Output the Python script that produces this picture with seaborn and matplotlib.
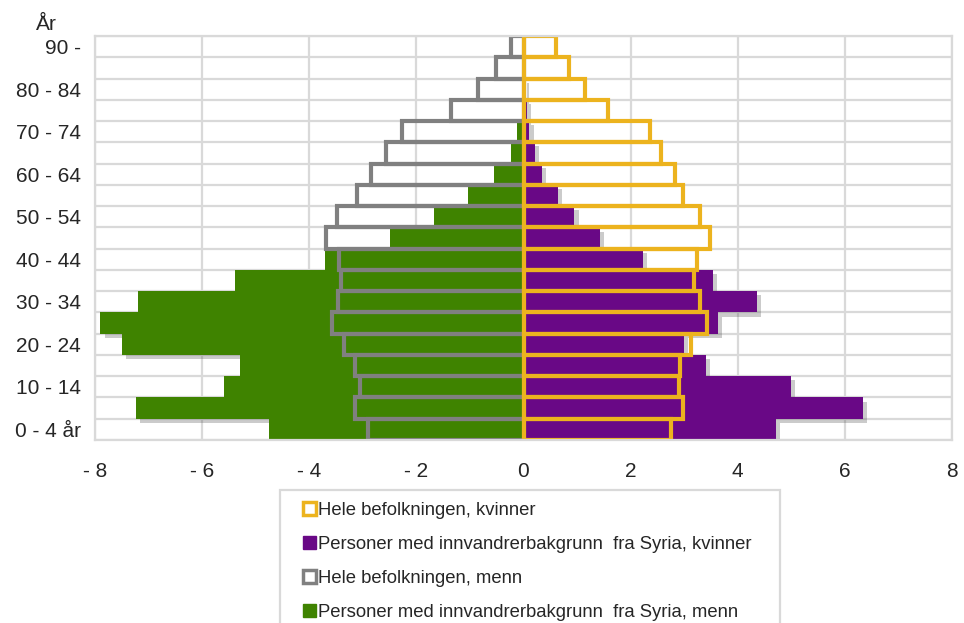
import matplotlib.pyplot as plt
import matplotlib.patheffects as pe
from matplotlib.patches import Patch, Rectangle
import seaborn as sns

# age groups, youngest first
ages = ["0 - 4 år", "5 - 9", "10 - 14", "15 - 19", "20 - 24", "25 - 29", "30 - 34",
        "35 - 39", "40 - 44", "45 - 49", "50 - 54", "55 - 59", "60 - 64", "65 - 69",
        "70 - 74", "75 - 79", "80 - 84", "85 - 89", "90 -"]

# percent of each population (men shown as negative)
women_all = [2.76, 2.97, 2.90, 2.93, 3.12, 3.43, 3.29, 3.18, 3.23, 3.49,
             3.29, 2.97, 2.82, 2.57, 2.37, 1.57, 1.14, 0.85, 0.60]
women_syria = [4.71, 6.33, 4.99, 3.40, 3.00, 3.63, 4.36, 3.54, 2.23, 1.43,
               0.95, 0.65, 0.34, 0.21, 0.11, 0.06, 0.02, 0.0, 0.0]
men_all = [-2.91, -3.14, -3.06, -3.14, -3.35, -3.58, -3.47, -3.41, -3.44, -3.69,
           -3.48, -3.10, -2.84, -2.57, -2.27, -1.35, -0.85, -0.51, -0.24]
men_syria = [-4.76, -7.24, -5.59, -5.29, -7.49, -7.90, -7.19, -5.39, -3.70, -2.50,
             -1.68, -1.03, -0.55, -0.24, -0.13, -0.02, -0.02, 0.0, 0.0]

labels = ["Hele befolkningen, kvinner",
          "Personer med innvandrerbakgrunn  fra Syria, kvinner",
          "Hele befolkningen, menn",
          "Personer med innvandrerbakgrunn  fra Syria, menn"]

GOLD = "#ECB31E"
PURPLE = "#690886"
GREY = "#808080"
GREEN = "#3F8300"
GRID = "#D9D9D9"

sns.set_style("white")
plt.rcParams["font.family"] = ["Liberation Sans", "DejaVu Sans"]
plt.rcParams["font.size"] = 15

fig = plt.figure(figsize=(9.64, 6.23), dpi=100)
ax = fig.add_axes([95 / 964, 1 - 440 / 623, (952 - 95) / 964, (440 - 36) / 623])

order = ages[::-1]
shadow = [pe.SimplePatchShadow(offset=(3, -3), shadow_rgbFace="#555555", alpha=0.3), pe.Normal()]

sns.barplot(x=men_syria, y=ages, order=order, orient="h", color=GREEN,
            width=1.0, saturation=1, linewidth=0, ax=ax)
sns.barplot(x=women_syria, y=ages, order=order, orient="h", color=PURPLE,
            width=1.0, saturation=1, linewidth=0, ax=ax)
for p in ax.patches:
    p.set_path_effects(shadow)

sns.barplot(x=men_all, y=ages, order=order, orient="h", color=GREY, fill=False,
            width=1.0, saturation=1, linewidth=3, ax=ax)
sns.barplot(x=women_all, y=ages, order=order, orient="h", color=GOLD, fill=False,
            width=1.0, saturation=1, linewidth=3, ax=ax)

ax.set_xlim(-8, 8)
ax.set_ylim(18.5, -0.5)
xt = list(range(-8, 9, 2))
ax.set_xticks(xt)
ax.set_xticklabels([f"- {abs(v)}" if v < 0 else str(v) for v in xt])
ax.set_yticks(range(len(order)))
ax.set_yticklabels([a if (len(order) - 1 - i) % 2 == 0 else "" for i, a in enumerate(order)])
ax.set_xlabel("")
ax.set_ylabel("")
ax.tick_params(axis="x", length=0, pad=16)
ax.tick_params(axis="y", length=0, pad=10)

ax.set_axisbelow(True)
for v in xt:
    ax.axvline(v, color=GRID, lw=1.6, zorder=0)
for k in range(len(order) + 1):
    ax.axhline(k - 0.5, color=GRID, lw=1.6, zorder=0)
for s in ax.spines.values():
    s.set_color(GRID)
    s.set_linewidth(1.6)

fig.text(46 / 964, 1 - 25 / 623, "År", ha="center", va="center", fontsize=15)

# legend box runs past the bottom edge of the figure, as in the original
fig.patches.append(Rectangle((280 / 964, -0.1), 500 / 964, 0.1 + (623 - 490) / 623,
                             transform=fig.transFigure, facecolor="white",
                             edgecolor=GRID, linewidth=1.6, zorder=1))
handles = [Patch(facecolor="white", edgecolor=GOLD, linewidth=2.5),
           Patch(facecolor=PURPLE, edgecolor=PURPLE),
           Patch(facecolor="white", edgecolor=GREY, linewidth=2.5),
           Patch(facecolor=GREEN, edgecolor=GREEN)]
leg = fig.legend(handles, labels, loc="upper left",
                 bbox_to_anchor=(303 / 964, 1 - 502 / 623),
                 frameon=False, handlelength=0.7, handleheight=0.7,
                 handletextpad=0.12, labelspacing=0.92, borderpad=0,
                 borderaxespad=0, fontsize=13.3)
leg.set_zorder(2)

fig.savefig("out.png", dpi=100)
